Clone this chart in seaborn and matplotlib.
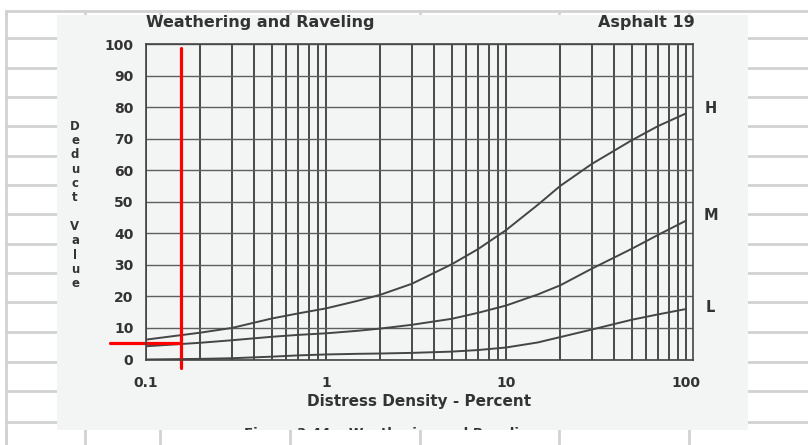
import numpy as np
import pandas as pd
import seaborn as sns
import matplotlib.pyplot as plt
from matplotlib.lines import Line2D
from matplotlib.patches import Rectangle
from matplotlib.ticker import FixedLocator, NullFormatter, LogLocator

# datos (densidad en %, valor deducido)
densidad = [0.1, 0.2, 0.3, 0.5, 0.7, 1, 1.5, 2, 3, 5, 7, 10, 15, 20, 30, 50, 70, 100]
alto = [6.3, 8.5, 10, 13, 14.6, 16.2, 18.6, 20.5, 24, 30.2, 35, 41, 49, 55, 62, 69.5, 74, 78]
medio = [4.2, 5.3, 6.1, 7.2, 7.8, 8.3, 9.1, 9.8, 11, 12.9, 14.8, 17.1, 20.6, 23.5, 28.8, 35.1, 39.5, 44]
bajo = [0, 0.2, 0.4, 0.9, 1.3, 1.6, 1.8, 1.9, 2.1, 2.5, 3, 3.8, 5.4, 7.1, 9.5, 12.6, 14.3, 16]
etiquetas = ["H", "M", "L"]
etiqueta_y = [79.7, 45.5, 16.6]

x_ticks = [0.1, 1, 10, 100]
x_labels = ["0.1", "1", "10", "100"]
y_ticks = list(range(0, 101, 10))

# lectura marcada en rojo
lectura_x = 0.1565
lectura_y = 5.2

W, H = 808, 445
sns.set_style("white")
plt.rcParams["font.family"] = ["DejaVu Sans"]
fig = plt.figure(figsize=(W / 100, H / 100), dpi=100)
fig.patch.set_facecolor("white")


def px(x, y):
    return x / W, 1 - y / H


# fondo tipo hoja de calculo
gris = "#d2d2d2"
for yy in [38, 68, 97, 126, 156, 185, 214, 244, 273, 302, 332, 362, 391, 422]:
    fig.add_artist(Line2D([6 / W, 57 / W], [1 - yy / H] * 2, color=gris, lw=2, zorder=-2))
    fig.add_artist(Line2D([748 / W, 1], [1 - yy / H] * 2, color=gris, lw=2, zorder=-2))
fig.add_artist(Line2D([6 / W, 1], [1 - 10.5 / H] * 2, color=gris, lw=2, zorder=-2))
for xx in [6, 85, 160, 290, 420, 559, 689]:
    fig.add_artist(Line2D([xx / W] * 2, [1 - 10.5 / H, 1 - 16 / H], color=gris, lw=2, zorder=-2))
    fig.add_artist(Line2D([xx / W] * 2, [0, 1 - 430 / H], color=gris, lw=2, zorder=-2))
fig.add_artist(Line2D([6 / W] * 2, [0, 1 - 10.5 / H], color=gris, lw=2, zorder=-2))

escaneo = Rectangle(px(57, 430), 691 / W, 415 / H, transform=fig.transFigure,
                    facecolor="#f3f4f4", edgecolor="none", zorder=-1)
fig.add_artist(escaneo)

ax = fig.add_axes([146 / W, 1 - 359.5 / H, 547 / W, 315.5 / H])
ax.set_facecolor("none")

tinta = "#333333"
df = pd.DataFrame({"densidad": densidad, "H": alto, "M": medio, "L": bajo})
for col in ["H", "M", "L"]:
    sns.lineplot(data=df, x="densidad", y=col, ax=ax, color="#454545", lw=1.4)

ax.set_xscale("log")
ax.set_xlim(0.1, 100 * 10 ** (7 / 180))
ax.set_ylim(0, 100)
ax.xaxis.set_major_locator(FixedLocator(x_ticks))
ax.set_xticklabels(x_labels)
ax.xaxis.set_minor_locator(LogLocator(base=10, subs=np.arange(2, 10)))
ax.xaxis.set_minor_formatter(NullFormatter())
ax.set_yticks(y_ticks)

ax.grid(True, which="both", axis="x", color="#3c3c3c", lw=1.3)
ax.grid(True, which="major", axis="y", color="#5e5e5e", lw=1.0)
ax.tick_params(axis="both", which="both", direction="out", length=4, width=1.1,
               color="#444444", labelsize=10, labelcolor=tinta)
ax.tick_params(axis="x", which="both", pad=8)
ax.tick_params(axis="y", pad=5)
for lab in ax.get_xticklabels() + ax.get_yticklabels():
    lab.set_fontweight("bold")
for sp in ax.spines.values():
    sp.set_color("#444444")
    sp.set_linewidth(1.2)

ax.set_xlabel("Distress Density - Percent", fontsize=11, fontweight="bold",
              color=tinta, labelpad=3)
ax.set_ylabel("")

for lab, yv in zip(etiquetas, etiqueta_y):
    ax.text(137, yv, lab, fontsize=10.5, fontweight="bold", color=tinta,
            ha="center", va="center", clip_on=False)

# lineas rojas de lectura
ax.plot([lectura_x, lectura_x], [-2.7, 98.7], color="red", lw=2.3, clip_on=False)
ax.plot([0.063, lectura_x], [lectura_y, lectura_y], color="red", lw=2.3, clip_on=False)

fig.text(*px(146, 23), "Weathering and Raveling", fontsize=11.5, fontweight="bold",
         color=tinta, ha="left", va="center")
fig.text(*px(695, 23), "Asphalt 19", fontsize=11.5, fontweight="bold",
         color=tinta, ha="right", va="center")
fig.text(*px(75, 205), "D\ne\nd\nu\nc\nt\n\nV\na\nl\nu\ne", fontsize=8.5,
         fontweight="bold", color=tinta, ha="center", va="center",
         linespacing=1.13)
pie = fig.text(*px(391, 427.5), "Figure 3-44    Weathering and Raveling", fontsize=9.5,
               fontweight="bold", color=tinta, ha="center", va="top")
pie.set_clip_path(escaneo)

fig.savefig("out.png", dpi=100)
